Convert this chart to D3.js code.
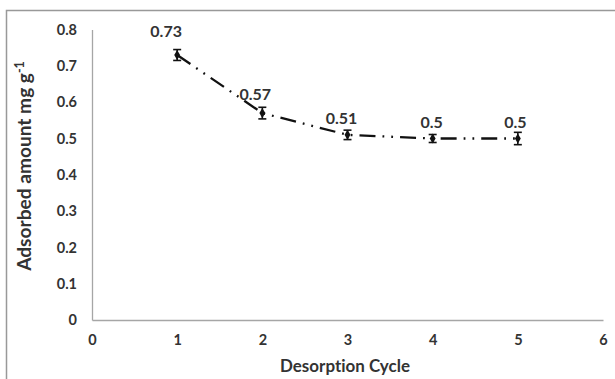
<!DOCTYPE html>
<html><head><meta charset="utf-8">
<script src="https://cdn.jsdelivr.net/npm/d3@7"></script>
<style>body{margin:0;background:#fff}svg{display:block}text{font-variant-ligatures:none}</style>
</head><body>
<script>
const cycles = [1, 2, 3, 4, 5];
const adsorbed = [0.73, 0.57, 0.51, 0.5, 0.5];
const errors = [0.015, 0.016, 0.013, 0.011, 0.017];
const labels = ["0.73", "0.57", "0.51", "0.5", "0.5"];
const xTicks = [0, 1, 2, 3, 4, 5, 6];
const yTicks = [0, 0.1, 0.2, 0.3, 0.4, 0.5, 0.6, 0.7, 0.8];

const W = 615, H = 379;
const svg = d3.select("body").append("svg").attr("width", W).attr("height", H);
const font = "Lato, 'Open Sans', sans-serif";
const txt = "#333";

function fit(sel, target) {
  const w = sel.node().getComputedTextLength();
  const fs = parseFloat(sel.attr("font-size"));
  sel.attr("font-size", fs * target / w);
}

// outer border
svg.append("path").attr("d", `M6.5,${H+5} V10.5 H${W+5}`).attr("fill","none").attr("stroke","#999").attr("stroke-width",1.5);

const x = d3.scaleLinear().domain([0, 6]).range([92, 603]);
const y = d3.scaleLinear().domain([0, 0.8]).range([320, 29.6]);

// axes
const xAxis = svg.append("g").attr("transform", `translate(0,${y(0)})`)
  .call(d3.axisBottom(x).tickValues(xTicks).tickSize(0).tickPadding(15).tickFormat(d3.format("d")));
const yAxis = svg.append("g").attr("transform", `translate(${x(0)},0)`)
  .call(d3.axisLeft(y).tickValues(yTicks).tickSize(0).tickPadding(15).tickFormat(d => d === 0 ? "0" : d3.format(".1f")(d)));
[xAxis, yAxis].forEach(g => {
  g.select(".domain").attr("stroke", "#a6a6a6").attr("stroke-width", 1.3);
  g.selectAll("text").attr("font-family", font).attr("font-weight", "bold").attr("font-size", 14.5).attr("fill", txt);
});

// line
const line = d3.line().x((d,i) => x(cycles[i])).y(d => y(d));
svg.append("path").datum(adsorbed).attr("d", line).attr("fill","none")
  .attr("stroke","#111").attr("stroke-width",2.3).attr("stroke-dasharray","16,7,1.8,7,1.8,7");

// error bars
const eb = svg.append("g").attr("stroke","#111").attr("stroke-width",1.6);
adsorbed.forEach((v,i) => {
  const cx = x(cycles[i]);
  eb.append("line").attr("x1",cx).attr("x2",cx).attr("y1",y(v+errors[i])).attr("y2",y(v-errors[i]));
  eb.append("line").attr("x1",cx-4).attr("x2",cx+4).attr("y1",y(v+errors[i])).attr("y2",y(v+errors[i]));
  eb.append("line").attr("x1",cx-4).attr("x2",cx+4).attr("y1",y(v-errors[i])).attr("y2",y(v-errors[i]));
});
// markers
svg.append("g").selectAll("path").data(adsorbed).join("path")
  .attr("transform",(d,i)=>`translate(${x(cycles[i])},${y(d)})`)
  .attr("d", d3.symbol().type(d3.symbolDiamond).size(30)).attr("fill","#111");

// data labels (manual label placement as in the source figure)
const ldx = [-11, -7, -6, -1, -2.5];
const ldy = [-18, -13, -11, -11, -11];
const dl = svg.append("g").selectAll("text").data(adsorbed).join("text")
  .attr("x",(d,i)=>x(cycles[i]) + ldx[i]).attr("y",(d,i)=>y(d) + ldy[i])
  .attr("text-anchor","middle").attr("font-family",font).attr("font-weight","bold")
  .attr("font-size",16).attr("fill",txt).text((d,i)=>labels[i]);

// axis titles
const xt = svg.append("text").attr("x", 345).attr("y", 372).attr("text-anchor","middle")
  .attr("font-family",font).attr("font-weight","bold").attr("font-size",15).attr("fill",txt)
  .text("Desorption Cycle");
fit(xt, 130);
const yt = svg.append("text").attr("transform","translate(31,166) rotate(-90)").attr("text-anchor","middle")
  .attr("font-family",font).attr("font-weight","bold").attr("fill",txt);
const ytm = yt.append("tspan").attr("font-size",15).text("Adsorbed amount mg g");
const w0 = ytm.node().getComputedTextLength();
const fsY = 15 * 198 / w0;
ytm.attr("font-size", fsY);
yt.append("tspan").attr("dy",-7).attr("font-size",fsY*0.65).text("-1");
</script>
</body></html>
